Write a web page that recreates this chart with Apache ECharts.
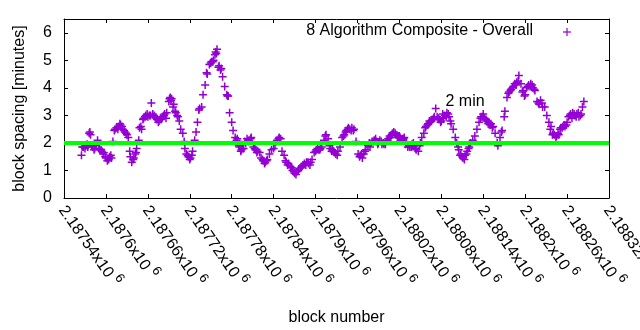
<!DOCTYPE html>
<html><head><meta charset="utf-8">
<script src="https://cdn.jsdelivr.net/npm/echarts@6/dist/echarts.min.js"></script>
<style>html,body{margin:0;padding:0;background:#fff}#c{width:640px;height:330px}</style>
</head><body><div id="c"></div>
<script>
// Block spacing per block (minutes), 8-algorithm composite
const seriesName = '8 Algorithm Composite - Overall';
const targetMinutes = 2;
const targetLabel = '2 min';
const targetLabelAt = [2188086, 3.51];
const xRange = [2187540, 2188320];
const xStep = 60;
const yRange = [0, 6.5];
const yStep = 1;
const xTickLabels = ['2.18754', '2.1876', '2.18766', '2.18772', '2.18778', '2.18784', '2.1879',
  '2.18796', '2.18802', '2.18808', '2.18814', '2.1882', '2.18826', '2.18832'];
const xTickExponent = '6';
const xAxisTitle = 'block number';
const yAxisTitle = 'block spacing [minutes]';

// [block number, spacing in minutes]
const samples = [
[2187565,1.55],[2187568,1.85],[2187571,1.9],[2187574,1.85],[2187576,2.35],[2187578,2.3],[2187581,1.85],[2187584,1.8],[2187588,2.1],[2187591,1.75],[2187594,1.7],[2187597,1.65],[2187600,1.45],[2187602,1.35],[2187605,1.5],[2187608,1.45],[2187610,2.05],[2187612,2.45],[2187615,2.55],[2187618,2.6],[2187621,2.65],[2187624,2.5],[2187627,2.4],[2187630,2.3],[2187632,2.2],[2187634,1.7],[2187635,1.5],[2187637,1.3],[2187640,1.45],[2187642,1.6],[2187644,1.8],[2187647,2.1],[2187648,2.55],[2187651,2.5],[2187654,2.9],[2187657,3.0],[2187660,2.95],[2187662,3.0],[2187665,3.45],[2187667,3.05],[2187670,2.95],[2187673,2.85],[2187676,2.8],[2187679,2.85],[2187681,2.95],[2187684,3.05],[2187687,3.1],[2187690,3.5],[2187692,3.65],[2187694,3.6],[2187697,3.4],[2187700,3.1],[2187703,2.95],[2187705,2.8],[2187707,2.5],[2187710,2.35],[2187713,1.8],[2187715,1.6],[2187718,1.5],[2187721,1.45],[2187724,1.7],[2187727,2.1],[2187729,2.4],[2187731,2.75],[2187734,3.25],[2187737,3.3],[2187739,3.75],[2187742,4.1],[2187745,4.5],[2187748,4.85],[2187751,4.95],[2187754,5.0],[2187757,5.3],[2187759,5.4],[2187762,4.8],[2187765,4.7],[2187767,4.4],[2187770,4.05],[2187773,3.75],[2187775,3.7],[2187777,3.1],[2187780,2.75],[2187782,2.45],[2187785,2.2],[2187788,2.15],[2187791,1.85],[2187794,1.75],[2187797,1.8],[2187800,2.0],[2187802,2.15],[2187805,2.1],[2187808,2.2],[2187811,1.85],[2187814,1.75],[2187817,1.7],[2187820,1.65],[2187822,1.45],[2187825,1.35],[2187828,1.3],[2187831,1.4],[2187834,1.6],[2187837,1.75],[2187840,1.8],[2187842,1.95],[2187845,2.1],[2187848,2.2],[2187850,2.15],[2187852,1.7],[2187855,1.55],[2187858,1.3],[2187861,1.25],[2187864,1.15],[2187867,1.0],[2187870,0.9],[2187873,0.95],[2187876,1.05],[2187879,1.1],[2187882,1.2],[2187884,1.25],[2187887,1.3],[2187890,1.25],[2187893,1.3],[2187895,1.4],[2187898,1.65],[2187901,1.75],[2187904,1.75],[2187907,1.8],[2187909,1.85],[2187912,2.1],[2187915,2.3],[2187918,2.15],[2187921,1.8],[2187924,1.75],[2187927,1.65],[2187929,1.6],[2187932,1.7],[2187935,1.85],[2187938,2.2],[2187941,2.3],[2187944,2.45],[2187947,2.55],[2187949,2.5],[2187952,2.55],[2187955,2.5],[2187958,2.05],[2187961,1.6],[2187964,1.55],[2187967,1.45],[2187969,1.6],[2187972,1.75],[2187975,1.9],[2187978,1.85],[2187981,2.05],[2187984,2.1],[2187987,2.05],[2187990,2.0],[2187992,2.1],[2187995,1.95],[2187998,1.95],[2188001,2.05],[2188004,2.15],[2188007,2.2],[2188010,2.35],[2188012,2.4],[2188015,2.3],[2188018,2.25],[2188021,2.2],[2188024,2.15],[2188027,2.2],[2188030,2.0],[2188032,1.85],[2188035,1.85],[2188038,1.95],[2188041,1.9],[2188044,1.75],[2188047,1.7],[2188050,2.0],[2188052,2.2],[2188055,2.35],[2188058,2.6],[2188061,2.7],[2188064,2.75],[2188067,2.85],[2188070,2.95],[2188072,3.25],[2188074,2.95],[2188077,2.85],[2188080,2.8],[2188083,2.9],[2188085,3.0],[2188088,3.1],[2188091,2.95],[2188094,2.7],[2188097,2.5],[2188100,2.2],[2188102,2.0],[2188105,1.75],[2188108,1.6],[2188111,1.45],[2188114,1.55],[2188117,1.7],[2188120,1.85],[2188122,2.0],[2188125,2.1],[2188128,2.25],[2188131,2.5],[2188134,2.75],[2188137,2.95],[2188140,3.05],[2188142,2.9],[2188145,2.8],[2188148,2.75],[2188151,2.7],[2188154,2.6],[2188157,2.35],[2188160,2.0],[2188161,1.9],[2188164,2.2],[2188167,2.45],[2188170,2.95],[2188171,3.15],[2188174,3.65],[2188177,3.85],[2188180,3.95],[2188183,4.05],[2188185,4.15],[2188188,4.2],[2188191,4.45],[2188194,4.15],[2188197,3.9],[2188200,3.75],[2188202,4.0],[2188205,4.1],[2188208,4.15],[2188211,4.0],[2188214,3.9],[2188217,3.5],[2188220,3.4],[2188222,3.55],[2188225,3.3],[2188228,3.3],[2188231,3.0],[2188234,2.75],[2188237,2.6],[2188240,2.35],[2188242,2.3],[2188245,2.25],[2188248,2.3],[2188251,2.55],[2188254,2.6],[2188257,2.6],[2188260,2.75],[2188262,2.95],[2188265,3.05],[2188268,3.1],[2188271,3.0],[2188274,3.05],[2188277,2.95],[2188280,3.05],[2188282,3.3],[2188284,3.5],
[2187566,1.85],[2187570,1.8],[2187573,1.95],[2187577,2.4],[2187580,1.9],[2187583,1.75],[2187586,1.9],[2187590,1.8],[2187593,1.75],[2187596,1.6],[2187599,1.5],[2187604,1.4],[2187607,1.55],[2187613,2.5],[2187617,2.5],[2187620,2.7],[2187623,2.6],[2187626,2.45],[2187629,2.35],[2187639,1.4],[2187643,1.65],[2187650,2.6],[2187653,2.85],[2187656,2.95],[2187659,3.05],[2187664,3.0],[2187669,3.0],[2187672,2.9],[2187675,2.75],[2187678,2.9],[2187683,3.0],[2187686,2.9],[2187691,3.6],[2187693,3.55],[2187696,3.3],[2187699,3.15],[2187702,3.0],[2187712,2.05],[2187717,1.55],[2187720,1.4],[2187723,1.55],[2187733,3.2],[2187744,4.55],[2187750,4.9],[2187753,4.95],[2187756,5.2],[2187758,5.25],[2187761,4.75],[2187764,4.65],[2187774,3.7],[2187787,2.1],[2187790,1.9],[2187793,1.7],[2187796,1.8],[2187799,2.05],[2187804,2.05],[2187807,2.15],[2187813,1.8],[2187816,1.65],[2187824,1.4],[2187827,1.25],[2187830,1.35],[2187844,2.05],[2187847,2.15],[2187857,1.35],[2187860,1.2],[2187866,1.1],[2187869,0.95],[2187872,0.85],[2187875,1.0],[2187881,1.15],[2187886,1.2],[2187889,1.3],[2187892,1.2],[2187900,1.7],[2187903,1.8],[2187906,1.75],[2187914,2.25],[2187920,1.9],[2187923,1.7],[2187926,1.7],[2187931,1.55],[2187940,2.25],[2187943,2.4],[2187946,2.5],[2187951,2.45],[2187954,2.45],[2187963,1.5],[2187966,1.6],[2187971,1.7],[2187977,2.0],[2187983,2.05],[2187986,2.15],[2187989,1.95],[2187994,2.05],[2187997,2.0],[2188000,1.95],[2188003,2.1],[2188006,2.25],[2188009,2.3],[2188014,2.35],[2188017,2.2],[2188020,2.25],[2188023,2.1],[2188026,2.15],[2188029,1.95],[2188034,1.9],[2188037,1.85],[2188040,2.0],[2188043,1.8],[2188049,1.9],[2188057,2.55],[2188060,2.65],[2188063,2.8],[2188066,2.8],[2188069,2.9],[2188076,2.9],[2188079,2.75],[2188082,3.05],[2188087,2.95],[2188090,3.05],[2188093,2.8],[2188104,1.85],[2188107,1.55],[2188110,1.5],[2188113,1.4],[2188116,1.6],[2188119,1.8],[2188136,2.9],[2188139,2.95],[2188144,2.85],[2188147,2.7],[2188150,2.65],[2188153,2.55],[2188166,2.4],[2188176,3.8],[2188179,3.9],[2188182,4.0],[2188187,4.1],[2188190,4.25],[2188196,3.85],[2188199,3.7],[2188204,4.05],[2188207,4.05],[2188210,4.1],[2188213,3.95],[2188219,3.45],[2188224,3.45],[2188236,2.5],[2188239,2.3],[2188244,2.2],[2188247,2.35],[2188250,2.5],[2188253,2.55],[2188256,2.65],[2188259,2.65],[2188264,3.0],[2188267,2.9],[2188270,3.05],[2188273,2.95],[2188276,3.1],[2188279,3.0]
];

const FONT = '"Liberation Sans", Arial, sans-serif';
const PURPLE = '#9400d3';
const PLUS = 'path://M0,3.25H8V4.75H0Z M3.25,0H4.75V8H3.25Z';

const chart = echarts.init(document.getElementById('c'), null, { renderer: 'canvas' });

const baseTick = { show: true, inside: true, length: 4, lineStyle: { color: '#000', width: 1 } };
const baseLine = { show: true, onZero: false, lineStyle: { color: '#000', width: 1 } };

chart.setOption({
  animation: false,
  backgroundColor: '#fff',
  textStyle: { fontFamily: FONT },
  grid: { left: 64, right: 31, top: 19, bottom: 132, outerBoundsMode: 'none', containLabel: false },
  xAxis: [{
    type: 'value', min: xRange[0], max: xRange[1], interval: xStep,
    axisLine: baseLine, axisTick: baseTick, splitLine: { show: false },
    name: xAxisTitle, nameLocation: 'middle', nameGap: 112,
    nameTextStyle: { color: '#000', fontSize: 16, fontFamily: FONT },
    axisLabel: {
      show: true, rotate: -55, margin: 8, color: '#000', hideOverlap: false,
      formatter: (v) => {
        const i = Math.round((v - xRange[0]) / xStep);
        return '{m|' + xTickLabels[i] + 'x10}{s|' + xTickExponent + '}';
      },
      rich: {
        m: { fontSize: 16, fontFamily: FONT, color: '#000', lineHeight: 21, verticalAlign: 'bottom' },
        s: { fontSize: 13, fontFamily: FONT, color: '#000', verticalAlign: 'top', padding: [0, 0, 0, 4] }
      }
    }
  }, {
    type: 'value', position: 'top', min: xRange[0], max: xRange[1], interval: xStep,
    axisLine: baseLine, axisTick: baseTick, axisLabel: { show: false }, splitLine: { show: false }
  }],
  yAxis: [{
    type: 'value', min: yRange[0], max: yRange[1], interval: yStep,
    axisLine: baseLine, axisTick: baseTick, splitLine: { show: false },
    name: yAxisTitle, nameLocation: 'middle', nameGap: 36, nameRotate: 90,
    nameTextStyle: { color: '#000', fontSize: 16, fontFamily: FONT },
    axisLabel: { color: '#000', fontSize: 16, fontFamily: FONT, margin: 12, showMaxLabel: false }
  }, {
    type: 'value', position: 'right', min: yRange[0], max: yRange[1], interval: yStep,
    axisLine: baseLine, axisTick: baseTick, axisLabel: { show: false }, splitLine: { show: false }
  }],
  graphic: [
    { type: 'text', right: 107, top: 23,
      style: { text: seriesName, fill: '#000', font: '16px ' + FONT } },
    { type: 'group', left: 563, top: 28, children: [
      { type: 'rect', shape: { x: 0, y: 3.4, width: 8, height: 1.2 }, style: { fill: PURPLE } },
      { type: 'rect', shape: { x: 3.4, y: 0, width: 1.2, height: 8 }, style: { fill: PURPLE } }
    ] }
  ],
  series: [{
    name: seriesName, type: 'scatter', data: samples,
    symbol: PLUS, symbolSize: 8, itemStyle: { color: PURPLE, opacity: 1 }, z: 2
  }, {
    type: 'line', data: [[xRange[0], targetMinutes], [xRange[1], targetMinutes]],
    symbol: 'none', lineStyle: { color: '#00ff00', width: 4, cap: 'butt' }, z: 3, silent: true
  }, {
    type: 'scatter', data: [targetLabelAt], symbolSize: 0, itemStyle: { color: '#000' },
    label: { show: true, position: 'right', distance: 0, formatter: targetLabel,
      color: '#000', fontSize: 16, fontFamily: FONT, opacity: 1 },
    z: 4, silent: true
  }]
});
</script>
</body></html>
